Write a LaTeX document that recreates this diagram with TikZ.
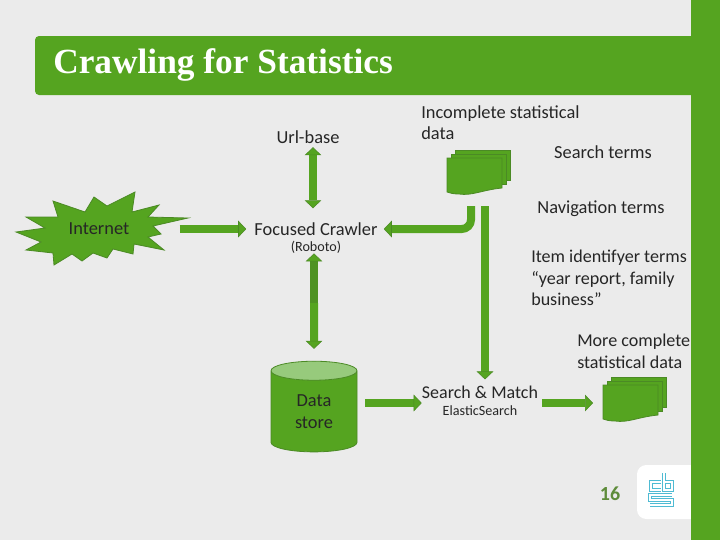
\documentclass[tikz,border=0pt]{standalone}
\usepackage{fontspec}
\setmainfont{Carlito}
\newfontfamily\titlefont{Liberation Serif}
\usetikzlibrary{arrows.meta,shapes.geometric}
\definecolor{pagegrey}{HTML}{EBEBEB}
\definecolor{cbsgreen}{HTML}{55A420}
\definecolor{edgegreen}{HTML}{4B8A25}
\definecolor{lidgreen}{HTML}{97CA7C}
\definecolor{numgreen}{HTML}{5E8C3A}
\definecolor{logoblue}{HTML}{4FBBD3}
\tikzset{
  lbl/.style={inner sep=0pt,text=black!85,font=\fontsize{13.8}{15.9}\selectfont,align=left},
  smalllbl/.style={lbl,font=\fontsize{10.6}{12}\selectfont},
  shapefill/.style={fill=cbsgreen,draw=edgegreen,line width=0.6pt,line join=miter},
  blockarrow/.style={draw=cbsgreen,line width=6pt,
    -{Triangle[length=6pt,width=12.5pt,color=edgegreen,fill=cbsgreen,line width=0.4pt]}},
  blockboth/.style={draw=cbsgreen,line width=6pt,
    {Triangle[length=6pt,width=12.5pt,color=edgegreen,fill=cbsgreen,line width=0.4pt]}-{Triangle[length=6pt,width=12.5pt,color=edgegreen,fill=cbsgreen,line width=0.4pt]}},
  logoline/.style={draw=logoblue,line width=0.8pt,double=white,double distance=0.9pt},
  docstack/.pic={
    \path[shapefill] (8,-8) -- (63,-8) -- (63,22) -- (8,22) -- cycle;
    \path[shapefill] (4,-4) -- (59,-4) -- (59,26) -- (4,26) -- cycle;
    \path[shapefill] (0,0) -- (55,0) -- (55,30) .. controls (35,32) and (25,38) .. (12,36) .. controls (6,36) and (3,35) .. (0,34) -- cycle;
    \coordinate (-west) at (0,18);
    \coordinate (-bend) at (24,48);
    \coordinate (-down) at (38,48);
  }
}
\begin{document}
\begin{tikzpicture}[x=0.75pt,y=-0.75pt]
  \useasboundingbox (0,0) rectangle (720,540);
  \fill[pagegrey] (0,0) rectangle (720,540);
  \fill[cbsgreen,rounded corners=3pt] (35,36) rectangle (700,95);
  \fill[white,rounded corners=7pt] (637,465) rectangle (700,519);
  \fill[cbsgreen] (691,0) rectangle (720,540);
  \node[anchor=west,inner sep=0pt,text=white,font=\titlefont\bfseries\fontsize{26.5}{30}\selectfont] (title) at (53,65) {Crawling for Statistics};

  % burst behind the Internet label
  \path[shapefill] (135,192) -- (132,212) -- (159,205) -- (148,217) -- (188,218) -- (153,226) -- (161,234) -- (148,237)
    -- (164,250) -- (134,244) -- (133,254) -- (113,249) -- (107,258) -- (93,253) -- (82,261) -- (72,254) -- (54,265)
    -- (53,253) -- (26,250) -- (41,242) -- (16,232) -- (45,228) -- (26,217) -- (58,217) -- (53,201) -- (85,212)
    -- (94,197) -- (107,206) -- cycle;
  \node[lbl] (internet) at (99,229) {Internet};

  \node[lbl] (urlbase) at (308,137.5) {Url-base};
  \node[lbl] (crawler) at (316,229) {Focused Crawler};
  \node[smalllbl] (roboto) at (316,247) {(Roboto)};
  \node[lbl,anchor=north west] (incomplete) at (421,105) {Incomplete statistical\\data};
  \node[lbl] (searchterms) at (603,152) {Search terms};
  \node[lbl] (navterms) at (601,209) {Navigation terms};
  \node[lbl,anchor=north west,font=\fontsize{13.55}{15.9}\selectfont] (itemterms) at (531,250) {Item identifyer terms\\``year report, family\\business''};
  \node[lbl,anchor=north west,font=\fontsize{13.55}{16.5}\selectfont] (morecomplete) at (577,334) {More complete\\statistical data};
  \node[lbl,font=\fontsize{13.5}{17}\selectfont] (match) at (480,392) {Search \& Match};
  \node[smalllbl] (elastic) at (480,411) {ElasticSearch};

  \node[cylinder,shape border rotate=90,aspect=0.5,minimum width=64.5pt,minimum height=68pt,inner sep=0pt,
    draw=edgegreen,line width=0.6pt,cylinder uses custom fill,cylinder body fill=cbsgreen,cylinder end fill=lidgreen,
    lbl,align=center,font=\fontsize{13.8}{16.5}\selectfont] (store) at (314,411.5) {Data\\store};

  \pic (docA) at (447,158) {docstack};
  \pic (docB) at (603,385) {docstack};

  \coordinate (seam) at (314,303);
  \coordinate (flowrow) at (0,403);
  \draw[blockboth,shorten <=2.25pt,shorten >=10.5pt] ([xshift=3.75pt]urlbase.south) -- ([xshift=-2.25pt]crawler.north);
  \draw[blockarrow,shorten <=37.5pt,shorten >=6pt] (internet.east) -- (internet.east -| crawler.west);
  \draw[blockarrow,draw=edgegreen!70!cbsgreen] (seam) -- (roboto.south -| seam);
  \draw[blockarrow,shorten >=9pt] (seam) -- (store.north);
  \draw[blockarrow,rounded corners=7pt,shorten >=4.5pt] (docA-bend) |- (crawler.east);
  \draw[blockarrow,shorten >=4.5pt] (docA-down) -- (match.north -| docA-down);
  \draw[blockarrow,shorten <=6pt] (store.east |- flowrow) -- (match.west |- flowrow);
  \draw[blockarrow,shorten <=3pt,shorten >=7.5pt] (match.east |- flowrow) -- (docB-west |- flowrow);

  % cbs logo
  \draw[logoline] (661,482) -- (651,482) -- (651,490) -- (661,490);
  \draw[logoline] (664,473) -- (664,490) -- (672,490) -- (672,482) -- (664,482);
  \draw[logoline] (672,495) -- (650,495) -- (650,500) -- (672,500) -- (672,505) -- (650,505);
  \node[inner sep=0pt,text=numgreen,font=\bfseries\fontsize{15}{17}\selectfont] (pagenum) at (610,494) {16};
\end{tikzpicture}
\end{document}
